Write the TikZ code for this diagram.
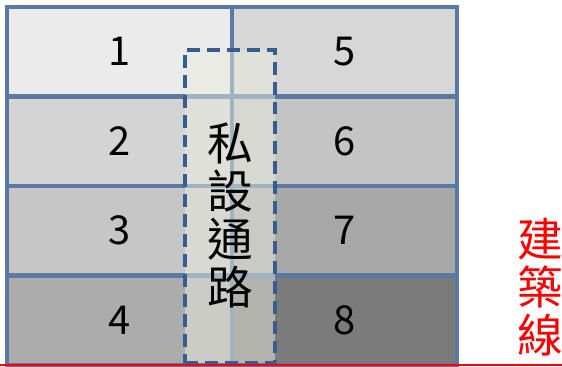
\documentclass[tikz,border=0pt]{standalone}
\usepackage{fontspec}
\setmainfont{Noto Sans CJK TC}
\definecolor{gridblue}{RGB}{91,122,163}
\definecolor{roadblue}{RGB}{55,92,142}
\definecolor{roadfill}{RGB}{232,236,222}
\definecolor{c1}{RGB}{235,235,235}
\definecolor{c2}{RGB}{212,212,212}
\definecolor{c3}{RGB}{198,198,198}
\definecolor{c4}{RGB}{172,172,172}
\definecolor{c5}{RGB}{215,215,215}
\definecolor{c6}{RGB}{196,196,196}
\definecolor{c7}{RGB}{168,168,168}
\definecolor{c8}{RGB}{123,123,123}
\begin{document}
\begin{tikzpicture}[x=0.03cm,y=-0.03cm,
	lot/.style={draw=gridblue, line width=3.5pt, minimum width=6.75cm,
		minimum height=2.685cm, inner sep=0pt, font=\fontsize{34}{40}\selectfont},
	road/.style={draw=roadblue, line width=3.5pt, dash pattern=on 11pt off 6pt,
		fill=roadfill, fill opacity=0.5, minimum width=2.7cm, minimum height=9.39cm},
	vtext/.style={align=center, inner sep=0pt, font=\fontsize{39}{41}\selectfont}]
	
	\useasboundingbox (0,0) rectangle (562,367);
	\foreach \n/\col/\row/\shade in {1/0/0/c1,2/0/1/c2,3/0/2/c3,4/0/3/c4,
		5/1/0/c5,6/1/1/c6,7/1/2/c7,8/1/3/c8}
	\node[lot, fill=\shade] (lot\n) at (119.5+225*\col,51.75+89.5*\row) {\n};
	
	\node[road] (road) at (230,206.5) {};
	\node[vtext] (roadname) at (230,215) {私\\設\\通\\路};
	
	\coordinate (line start) at (0,365);
	\coordinate (line end) at (562,365);
	\draw[red, line width=1.6pt] (line start) -- (line end);
	\node[vtext, text=red] (linename) at (540,287) {建\\築\\線};
\end{tikzpicture}
\end{document}
